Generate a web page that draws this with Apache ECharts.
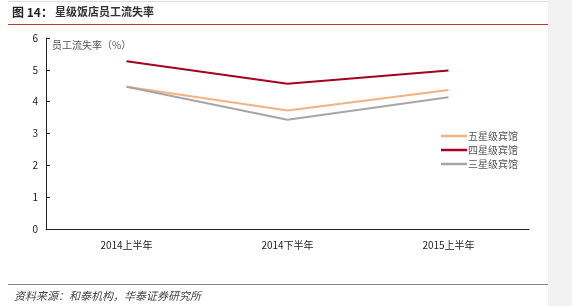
<!DOCTYPE html>
<html><head><meta charset="utf-8">
<script src="https://cdn.jsdelivr.net/npm/echarts@6/dist/echarts.min.js"></script>
<style>html,body{margin:0;padding:0;background:#fff}#c{width:572px;height:306px}</style>
</head><body><div id="c"></div>
<script>
const categories = ['2014上半年', '2014下半年', '2015上半年'];
const fiveStar = [4.47, 3.72, 4.37];
const fourStar = [5.27, 4.56, 4.98];
const threeStar = [4.47, 3.43, 4.14];
const seriesNames = ['五星级宾馆', '四星级宾馆', '三星级宾馆'];
const yTicks = [0, 1, 2, 3, 4, 5, 6];

const chart = echarts.init(document.getElementById('c'));
const font = '"Noto Sans CJK SC", "Liberation Sans", sans-serif';
chart.setOption({
  animation: false,
  backgroundColor: '#fff',
  textStyle: { fontFamily: font },
  graphic: [
    { type: 'rect', shape: { x: 548, y: 0, width: 24, height: 306 }, style: { fill: '#f2f2f2' }, silent: true },
    { type: 'rect', shape: { x: 8, y: 1, width: 540, height: 1 }, style: { fill: '#ddd' } },
    { type: 'text', left: 12, top: 6, style: { text: '图 14：', font: 'bold 12px ' + font, fill: '#222' } },
    { type: 'text', left: 55, top: 6, style: { text: '星级饭店员工流失率', font: 'bold 11px ' + font, fill: '#333' } },
    { type: 'rect', shape: { x: 8, y: 24, width: 540, height: 1 }, style: { fill: '#c0392b' } },
    { type: 'rect', shape: { x: 8, y: 284, width: 540, height: 1 }, style: { fill: '#888' } },
    { type: 'text', left: 14, top: 290, style: { text: '资料来源：和泰机构，华泰证券研究所', font: 'italic 11px ' + font, fill: '#444' } }
  ],
  legend: {
    orient: 'vertical', left: 436, top: 126, itemGap: 4, itemWidth: 26, itemHeight: 10,
    icon: 'path://M0,4L26,4L26,6.5L0,6.5Z',
    textStyle: { fontSize: 10, color: '#555', fontFamily: font, padding: [0, 0, 0, -4] },
    data: seriesNames
  },
  grid: { left: 46, right: 43, top: 38, bottom: 77, containLabel: false },
  xAxis: {
    type: 'category', data: categories, boundaryGap: true,
    axisLine: { lineStyle: { color: '#222', width: 1 } },
    axisTick: { show: false },
    axisLabel: { fontSize: 10, color: '#222', margin: 11, fontFamily: font }
  },
  yAxis: {
    type: 'value', min: yTicks[0], max: yTicks[yTicks.length - 1], interval: 1,
    name: '员工流失率（%）', nameLocation: 'end', nameGap: -2,
    nameTextStyle: { fontSize: 10, color: '#555', align: 'left', padding: [0, 0, 0, 6], verticalAlign: 'top' },
    axisLine: { show: true, lineStyle: { color: '#222', width: 1 } },
    axisTick: { show: true, inside: true, length: 4, lineStyle: { color: '#222' } },
    splitLine: { show: false },
    axisLabel: { fontSize: 10, color: '#222', margin: 8, fontFamily: font }
  },
  series: [
    { name: seriesNames[0], type: 'line', data: fiveStar, symbol: 'none', lineStyle: { color: '#F4B183', width: 2 }, itemStyle: { color: '#F4B183' } },
    { name: seriesNames[1], type: 'line', data: fourStar, symbol: 'none', lineStyle: { color: '#A50021', width: 2 }, itemStyle: { color: '#A50021' } },
    { name: seriesNames[2], type: 'line', data: threeStar, symbol: 'none', lineStyle: { color: '#A6A6A6', width: 2 }, itemStyle: { color: '#A6A6A6' } }
  ]
});
</script></body></html>
